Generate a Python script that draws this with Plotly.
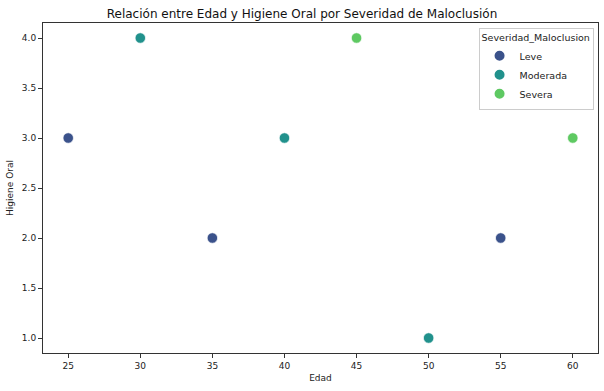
import plotly.graph_objects as go

categories = ["Leve", "Moderada", "Severa"]
colors = ["#3b528b", "#21918c", "#5ec962"]
edad = {"Leve": [25, 35, 55], "Moderada": [30, 40, 50], "Severa": [45, 60]}
higiene = {"Leve": [3, 2, 2], "Moderada": [4, 3, 1], "Severa": [4, 3]}

fig = go.Figure()
for cat, col in zip(categories, colors):
    fig.add_trace(go.Scatter(
        x=edad[cat], y=higiene[cat], mode="markers", name=cat,
        marker=dict(color=col, size=10.5, line=dict(color="white", width=0.7)),
    ))

axis_common = dict(
    showgrid=False, zeroline=False, showline=True, linecolor="#333333", linewidth=1,
    mirror=True, ticks="outside", ticklen=4, tickcolor="#333333", automargin=False,
    tickfont=dict(family="DejaVu Sans", size=9, color="#222222"),
)
fig.update_layout(
    width=604, height=391,
    paper_bgcolor="white", plot_bgcolor="white",
    margin=dict(l=43, r=6, t=23, b=38, pad=0),
    title=dict(text="Relación entre Edad y Higiene Oral por Severidad de Maloclusión",
               x=0.5, xanchor="center", y=0.975, yanchor="top",
               font=dict(family="DejaVu Sans", size=12, color="#111111")),
    font=dict(family="DejaVu Sans", color="#222222"),
    xaxis=dict(range=[23.25, 61.75], tickvals=[25, 30, 35, 40, 45, 50, 55, 60],
               title=dict(text="Edad", font=dict(size=9), standoff=4), **axis_common),
    yaxis=dict(range=[0.85, 4.15], tickvals=[1, 1.5, 2, 2.5, 3, 3.5, 4],
               ticktext=["1.0", "1.5", "2.0", "2.5", "3.0", "3.5", "4.0"],
               title=dict(text="Higiene Oral", font=dict(size=9), standoff=6), **axis_common),
    legend=dict(title=dict(text="Severidad_Maloclusion", font=dict(size=9.5), side="top"),
                font=dict(size=9.5), x=0.992, xanchor="right", y=0.985, yanchor="top",
                bordercolor="#cccccc", borderwidth=1, bgcolor="rgba(255,255,255,0.8)",
                itemsizing="constant", tracegroupgap=0, itemwidth=30),
)
fig.write_html("out.html", config={"displayModeBar": False},
               post_script="document.body.style.margin='0';document.body.style.padding='0';")
